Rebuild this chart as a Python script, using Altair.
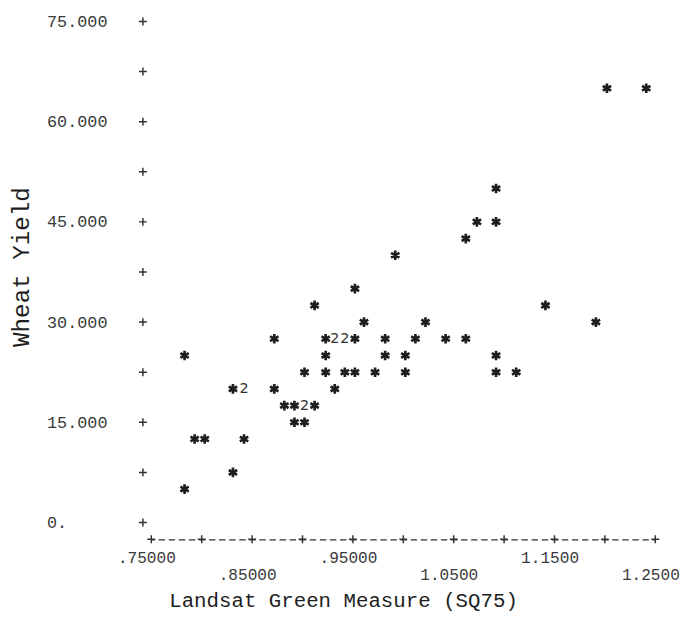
import json
import altair as alt
import pandas as pd

# ---- data (line-printer scatter) ----
X_VALUES = [0.783, 0.783, 0.793, 0.803, 0.831, 0.831, 0.842, 0.842, 0.872, 0.872,
            0.882, 0.892, 0.902, 0.912, 0.892, 0.902, 0.902, 0.912, 0.923, 0.932,
            0.942, 0.952, 0.923, 0.923, 0.932, 0.942, 0.952, 0.952, 0.961, 0.972,
            0.982, 0.982, 0.992, 1.002, 1.002, 1.012, 1.022, 1.042, 1.062, 1.062,
            1.073, 1.092, 1.092, 1.092, 1.092, 1.112, 1.141, 1.191, 1.202, 1.241]
Y_VALUES = [5.0, 25.0, 12.5, 12.5, 7.5, 20.0, 20.0, 12.5, 20.0, 27.5,
            17.5, 17.5, 17.5, 17.5, 15.0, 15.0, 22.5, 32.5, 27.5, 27.5,
            27.5, 27.5, 25.0, 22.5, 20.0, 22.5, 22.5, 35.0, 30.0, 22.5,
            27.5, 25.0, 40.0, 25.0, 22.5, 27.5, 30.0, 27.5, 27.5, 42.5,
            45.0, 45.0, 50.0, 25.0, 22.5, 22.5, 32.5, 30.0, 65.0, 65.0]
COUNTS = [1, 1, 1, 1, 1, 1, 2, 1, 1, 1,
          1, 1, 2, 1, 1, 1, 1, 1, 1, 2,
          2, 1, 1, 1, 1, 1, 1, 1, 1, 1,
          1, 1, 1, 1, 1, 1, 1, 1, 1, 1,
          1, 1, 1, 1, 1, 1, 1, 1, 1, 1]

X_TICK_VALUES = [0.75, 0.85, 0.95, 1.05, 1.15, 1.25]
X_TICK_LABELS = [".75000", ".85000", ".95000", "1.0500", "1.1500", "1.2500"]
X_PLUS_TICKS = [0.75, 0.80, 0.85, 0.90, 0.95, 1.00, 1.05, 1.10, 1.15, 1.20, 1.25]
Y_TICK_VALUES = [0, 15, 30, 45, 60, 75]
Y_TICK_LABELS = ["0.", "15.000", "30.000", "45.000", "60.000", "75.000"]
Y_PLUS_TICKS = [0, 7.5, 15, 22.5, 30, 37.5, 45, 52.5, 60, 67.5, 75]

X_TITLE = "Landsat Green Measure (SQ75)"
Y_TITLE = "Wheat Yield"

W = 510
H = 507
MONO = "Liberation Mono"
INK = "#1e1e1e"
LABEL_INK = "#3a3a3a"

points = pd.DataFrame({"x": X_VALUES, "y": Y_VALUES, "n": COUNTS})
xplus = pd.DataFrame({"x": X_PLUS_TICKS})
yplus = pd.DataFrame({"y": Y_PLUS_TICKS})

xscale = alt.Scale(domain=[0.75, 1.25], nice=False, zero=False)
yscale = alt.Scale(domain=[0, 75], nice=False, zero=False)

x_lookup = "{}[indexof({}, round(datum.value*100))]".format(
    json.dumps(X_TICK_LABELS), json.dumps([round(v * 100) for v in X_TICK_VALUES]))
# labels alternate between two printed rows
x_label_expr = "(round(datum.value*100) % 20 == 5) ? ['', {0}] : {0}".format(x_lookup)
y_label_expr = "{}[indexof({}, round(datum.value))]".format(
    json.dumps(Y_TICK_LABELS), json.dumps([round(v) for v in Y_TICK_VALUES]))

x_axis = alt.Axis(
    values=X_TICK_VALUES, labelExpr=x_label_expr, grid=False,
    ticks=False, tickSize=0, offset=17,
    domain=True, domainDash=[6.5, 3.7], domainDashOffset=3.3,
    domainColor="#333333", domainWidth=1.3,
    labelFont=MONO, labelFontSize=16.3, labelColor=LABEL_INK,
    labelBaseline="alphabetic", labelAlign="center", labelOverlap=False, labelFlush=False,
    labelPadding=23, labelLineHeight=17.5, labelOffset=-5,
    title=X_TITLE, titleFont=MONO, titleFontSize=21, titleFontWeight="normal",
    titleColor=INK, titleX=194, titleY=62, titleBaseline="middle", titleAlign="center",
)
y_axis = alt.Axis(
    values=Y_TICK_VALUES, labelExpr=y_label_expr, grid=False,
    ticks=False, tickSize=0, domain=False,
    labelFont=MONO, labelFontSize=17, labelColor=LABEL_INK,
    labelBaseline="middle", labelAlign="left", labelPadding=106, labelFlush=False,
    labelOverlap=False,
    title=Y_TITLE, titleFont=MONO, titleFontSize=24.5, titleFontWeight="normal",
    titleColor=INK, titleAngle=270, titleX=-131, titleY=248,
    titleBaseline="middle", titleAlign="center",
)

STAR = "M0,-1L0,1M-0.87,-0.5L0.87,0.5M-0.87,0.5L0.87,-0.5"
PLUS = "M-1,0L1,0M0,-1L0,1"

X_ENC = alt.X("x:Q", scale=xscale, axis=x_axis)
Y_ENC = alt.Y("y:Q", scale=yscale, axis=y_axis)

stars = alt.Chart(points).transform_filter("datum.n == 1").mark_point(
    shape=STAR, filled=False, size=95, strokeWidth=2.7, color=INK, opacity=1
).encode(x=X_ENC, y=Y_ENC)

twos = alt.Chart(points).transform_filter("datum.n == 2").mark_text(
    text="2", font="DejaVu Sans", fontSize=14.5, color="#333333",
    baseline="middle", align="center"
).encode(x=X_ENC, y=Y_ENC)

y_plus = alt.Chart(yplus).mark_point(
    shape=PLUS, filled=False, size=64, strokeWidth=1.5, color="#333333", opacity=1
).encode(x=alt.value(-8.5), y=Y_ENC)

x_plus = alt.Chart(xplus).mark_point(
    shape=PLUS, filled=False, size=64, strokeWidth=1.5, color="#333333", opacity=1
).encode(x=X_ENC, y=alt.value(H + 17))

chart = alt.layer(stars, twos, y_plus, x_plus).properties(
    width=W, height=H,
    autosize=alt.AutoSizeParams(type="none"),
    padding={"left": 145, "top": 10, "right": 27, "bottom": 92},
    background="white",
).configure_view(strokeWidth=0)

chart.save("out.html", embed_options={"renderer": "svg", "actions": False})
